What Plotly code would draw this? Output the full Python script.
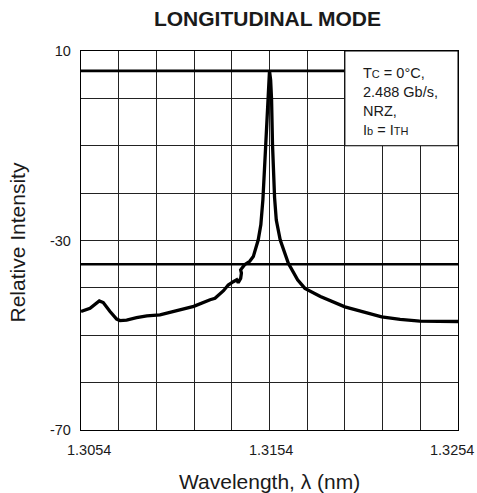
import plotly.graph_objects as go

# ---- data ----
wavelength = [1.30540, 1.30588, 1.30637, 1.30658, 1.30694, 1.30729, 1.30747, 1.30782,
              1.30835, 1.30889, 1.30959, 1.31030, 1.31138, 1.31225, 1.31251, 1.31296,
              1.31321, 1.31348, 1.31366, 1.31374, 1.31387, 1.31391, 1.31387, 1.31408,
              1.31435, 1.31454, 1.31472, 1.31480, 1.31494, 1.31505, 1.31520, 1.31532,
              1.31536, 1.31540, 1.31546, 1.31551, 1.31556, 1.31567, 1.31576, 1.31597,
              1.31640, 1.31689, 1.31728, 1.31810, 1.31940, 1.32135, 1.32233, 1.32337,
              1.32540]
intensity = [-45.0, -44.3, -42.75, -43.1, -45.0, -46.6, -46.9, -46.8,
             -46.3, -45.9, -45.7, -45.0, -43.9, -42.5, -42.2, -40.6,
             -39.4, -38.7, -38.3, -38.9, -38.0, -36.9, -36.2, -35.1,
             -34.4, -33.4, -31.3, -29.9, -26.7, -21.4, -9.8, -0.3,
             3.9, 5.8, 3.9, -0.3, -9.8, -21.0, -25.7, -29.9,
             -34.8, -38.3, -40.1, -41.8, -44.0, -46.1, -46.65, -47.0,
             -47.1]

peak_level = 5.8
smsr_level = -35.0

x_min, x_max, x_step = 1.3054, 1.3254, 0.002
y_min, y_max, y_step = -70, 10, 10
x_labels = ["1.3054", "1.3154", "1.3254"]
y_labels = ["10", "-30", "-70"]

box_x0, box_y0 = 1.3194, -10  # condition box lower-left corner

x_ticks = [round(x_min + i * x_step, 4) for i in range(11)]
y_ticks = list(range(y_max, y_min - 1, -y_step))
y_text = [str(v) if str(v) in y_labels else "" for v in y_ticks]

FONT = "Liberation Sans, Arial, sans-serif"
INK = "#1a1a1a"

fig = go.Figure()
fig.add_trace(go.Scatter(x=wavelength, y=intensity, mode="lines",
                         line=dict(color="black", width=3.3), showlegend=False,
                         hoverinfo="skip"))

# reference level lines
fig.add_shape(type="line", x0=x_min, x1=box_x0, y0=peak_level, y1=peak_level,
              line=dict(color="black", width=2.6), layer="above")
fig.add_shape(type="line", x0=x_min, x1=x_max, y0=smsr_level, y1=smsr_level,
              line=dict(color="black", width=2.6), layer="above")
# condition box
fig.add_shape(type="rect", x0=box_x0, x1=x_max, y0=box_y0, y1=y_max,
              fillcolor="white", line=dict(color="black", width=1), layer="above")

small = "<span style='font-size:11px'>"
fig.add_annotation(
    x=box_x0, y=y_max, xref="x", yref="y", xanchor="left", yanchor="top",
    xshift=16, yshift=-12, align="left", showarrow=False,
    text=(f"T{small}C</span> = 0°C,<br>2.488 Gb/s,<br>NRZ,<br>"
          f"I{small}b</span> = I{small}TH</span>"),
    font=dict(family=FONT, size=14.5, color=INK),
)

# x tick labels (edge labels pulled inward as in the reference)
label_shift = {0: 8, 1: 1.5, 2: -6}
for i, lab in enumerate(x_labels):
    fig.add_annotation(x=float(lab), y=0, xref="x", yref="paper",
                       xanchor="center", yanchor="middle", yshift=-20,
                       xshift=label_shift[i], showarrow=False, text=lab,
                       font=dict(family=FONT, size=14.5, color=INK))

# axis titles
fig.add_annotation(x=0.5, y=0, xref="paper", yref="paper", xanchor="center",
                   yanchor="middle", yshift=-51, showarrow=False,
                   text="Wavelength, λ (nm)",
                   font=dict(family=FONT, size=21, color=INK))
fig.add_annotation(x=0, y=0.5, xref="paper", yref="paper", xanchor="center",
                   yanchor="middle", xshift=-64, yshift=-2, textangle=-90,
                   showarrow=False, text="Relative Intensity",
                   font=dict(family=FONT, size=21, color=INK))

fig.update_layout(
    width=477, height=493,
    margin=dict(l=81, r=19, t=51, b=63, autoexpand=False),
    paper_bgcolor="white", plot_bgcolor="white",
    title=dict(text="<b>LONGITUDINAL MODE</b>", x=267.5 / 477, xanchor="center",
               y=1 - 19 / 493, yanchor="middle", yref="container",
               font=dict(family=FONT, size=21, color=INK)),
    xaxis=dict(range=[x_min, x_max], tickvals=x_ticks, showticklabels=False,
               showgrid=True, gridcolor="#222", gridwidth=1,
               showline=True, linecolor="black", linewidth=1.2, mirror=True,
               zeroline=False, ticks="", automargin=False),
    yaxis=dict(range=[y_min, y_max], tickvals=y_ticks, ticktext=y_text,
               showgrid=True, gridcolor="#222", gridwidth=1,
               showline=True, linecolor="black", linewidth=1.2, mirror=True,
               zeroline=False, ticks="", ticklabelstandoff=6, automargin=False,
               tickfont=dict(family=FONT, size=14.5, color=INK)),
)

fig.write_html("out.html", config={"displayModeBar": False, "staticPlot": True},
               post_script="document.body.style.margin='0';document.body.style.overflow='hidden';")
